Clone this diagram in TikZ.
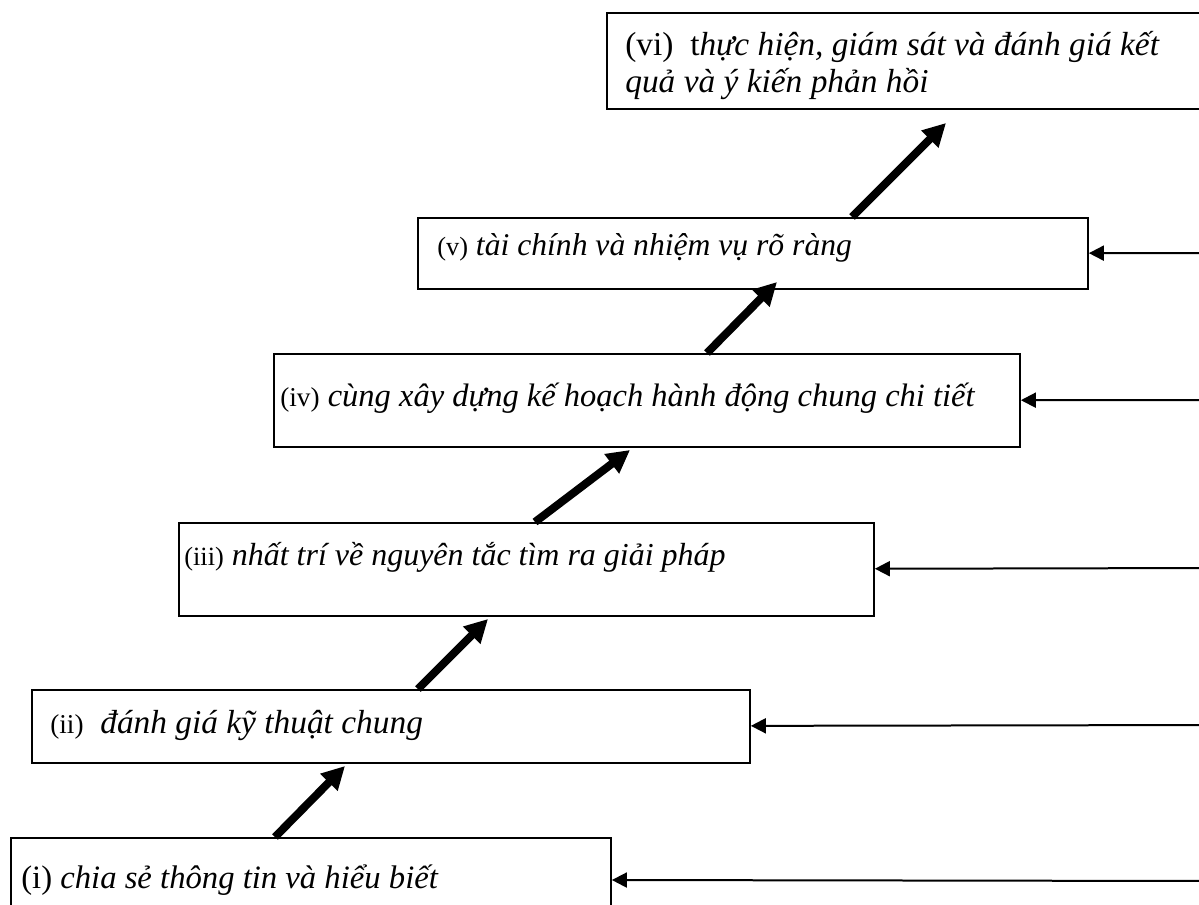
\documentclass[tikz,border=0pt]{standalone}
\usepackage{fontspec}
\setmainfont{Liberation Serif}
\usetikzlibrary{arrows.meta,calc,positioning}

\begin{document}
\begin{tikzpicture}[x=0.02cm, y=-0.02cm,
    stepbox/.style={draw, line width=0.4mm, rectangle,
      anchor=north west, inner sep=0pt},
    steptext/.style={anchor=west, inner sep=0pt, align=left,
      font=\fontsize{18}{19}\selectfont},
    climb/.style={line width=1.6mm, -{Triangle[length=4.6mm, width=4.6mm]}},
    feed/.style={line width=0.4mm, -{Triangle[length=3mm, width=3mm]}}]
      \useasboundingbox (0,0) rectangle (1199,904);
      \clip (0,0) rectangle (1199,904);
      % Add the boxes
      \node[stepbox,
        minimum width=12cm,
        minimum height=1.66cm] (b1) at (10,837) {};
      \node[stepbox,
        minimum width=14.36cm,
        minimum height=1.46cm] (b2) at (31,689) {};
      \node[stepbox,
        minimum width=13.9cm,
        minimum height=1.86cm] (b3) at (178,522) {};
      \node[stepbox,
        minimum width=14.92cm,
        minimum height=1.86cm] (b4) at (273,353) {};
      \node[stepbox,
        minimum width=13.4cm,
        minimum height=1.42cm] (b5) at (417,217) {};
      \node[stepbox,
        minimum width=12.4cm,
        minimum height=1.92cm] (b6) at (606,12) {};
      % Add the texts
      \node[steptext, font=\fontsize{18.6}{19}\selectfont]
        (t1) at ($(b1.north west)+(11,43)$) {(i) \emph{chia sẻ thông tin và hiểu biết}};
      \node[steptext, font=\fontsize{19}{19}\selectfont]
        (t2) at ($(b2.north west)+(19,36)$) {{\fontsize{15.5}{17}\selectfont(ii)}\ \ \emph{đánh giá kỹ thuật chung}};
      \node[steptext, font=\fontsize{18.2}{19}\selectfont]
        (t3) at ($(b3.north west)+(6,35)$) {{\fontsize{15}{17}\selectfont(iii)} \emph{nhất trí về nguyên tắc tìm ra giải pháp}};
      \node[steptext, font=\fontsize{18.5}{19}\selectfont]
        (t4) at ($(b4.north west)+(7,45)$) {{\fontsize{15.5}{17}\selectfont(iv)} \emph{cùng xây dựng kế hoạch hành động chung chi tiết}};
      \node[steptext]
        (t5) at ($(b5.north west)+(20,31)$) {{\fontsize{15}{17}\selectfont(v)} \emph{tài chính và nhiệm vụ rõ ràng}};
      \node[steptext, anchor=base west, font=\fontsize{19}{20.5}\selectfont]
        (t6) at ($(b6.north west)+(19,80)$) {(vi)\ \ t\emph{hực hiện, giám sát và đánh giá kết}\\
        \emph{quả và ý kiến phản hồi}};
      % Feed-in points on the right
      \coordinate (c1) at (1215,881);
      \coordinate (c2) at (1215,725);
      \coordinate (c3) at (1215,568);
      \coordinate (c4) at (1215,400);
      \coordinate (c5) at (1215,253);
      % Connect the boxes
      \draw[climb] ($(b1.north west)+(265,0)$) -- ($(b2.south west)+(314,2)$);
      \draw[climb] ($(b2.north west)+(387,0)$) -- ($(b3.south west)+(310,2)$);
      \draw[climb] ($(b3.north west)+(357,0)$) -- ($(b4.south west)+(357,2)$);
      \draw[climb] ($(b4.north west)+(434,0)$) -- ($(b5.south west)+(360,-8)$);
      \draw[climb] ($(b5.north west)+(435,0)$) -- ($(b6.south west)+(340,13)$);
      \draw[feed]
      (c1) edge (b1)
      (c2) edge (b2)
      (c3) edge (b3)
      (c4) edge (b4)
      (c5) edge (b5);
\end{tikzpicture}
\end{document}
